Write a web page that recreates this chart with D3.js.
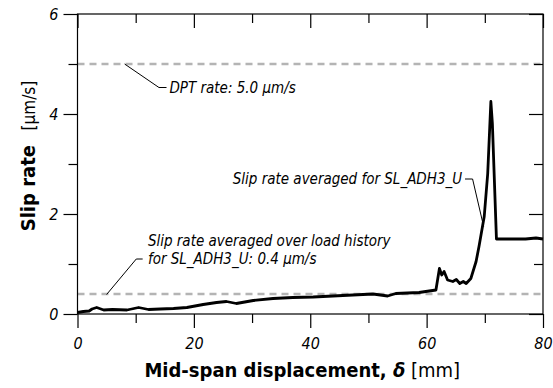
<!DOCTYPE html>
<html>
<head>
<meta charset="utf-8">
<script src="https://cdn.jsdelivr.net/npm/d3@7"></script>
<style>
  body { margin: 0; background: #fff; }
  svg text { font-family: "Liberation Sans Narrow", "Arial Narrow", "DejaVu Sans Condensed", sans-serif; }
</style>
</head>
<body>
<div id="chart"></div>
<script>
// Slip rate vs mid-span displacement
const displacement = [0, 1, 2, 2.5, 3.3, 4.5, 6, 8.5, 10.5, 12.2, 14.2, 16.5, 18.8, 21.6, 23.9, 25.6,
  27.3, 30.2, 33.6, 37, 40.5, 45.6, 50.8, 53.3, 54.7, 58.7, 61.6, 62.2, 62.6, 63.0, 63.6, 64.5,
  65.1, 65.7, 66.3, 66.8, 67.6, 68.5, 69.0, 69.9, 70.5, 70.75, 71.04, 71.3, 72.0, 74.7, 77, 78.8, 80];
const slipRate = [0.03, 0.05, 0.06, 0.1, 0.13, 0.08, 0.09, 0.08, 0.13, 0.09, 0.1, 0.11, 0.13, 0.19, 0.23, 0.25,
  0.21, 0.27, 0.31, 0.33, 0.34, 0.37, 0.40, 0.36, 0.41, 0.43, 0.48, 0.91, 0.78, 0.85, 0.68, 0.65,
  0.69, 0.61, 0.65, 0.61, 0.71, 1.05, 1.35, 1.95, 2.81, 3.48, 4.25, 3.81, 1.5, 1.5, 1.5, 1.52, 1.5];

const refRates = [5.0, 0.4];
const xMajorTicks = [0, 20, 40, 60, 80];
const xMinorTicks = [10, 30, 50, 70];
const yMajorTicks = [0, 2, 4, 6];
const yMinorTicks = [1, 3, 5];

const W = 553, H = 388;
const margin = { top: 14, right: 10, bottom: 74, left: 77.5 };
const width = W - margin.left - margin.right;
const height = H - margin.top - margin.bottom;

const svg = d3.select('#chart').append('svg')
  .attr('width', W)
  .attr('height', H);

const g = svg.append('g')
  .attr('transform', `translate(${margin.left},${margin.top})`);

const x = d3.scaleLinear().domain([0, 80]).range([0, width]);
const y = d3.scaleLinear().domain([0, 6]).range([height, 0]);
const fmt = d3.format('d');

// reference dashed lines
g.selectAll('.ref')
  .data(refRates)
  .enter().append('line')
  .attr('class', 'ref')
  .attr('x1', 0).attr('x2', width)
  .attr('y1', d => y(d)).attr('y2', d => y(d))
  .attr('stroke', '#b4b4b4')
  .attr('stroke-width', 2.5)
  .attr('stroke-dasharray', '7,5');

// axes: bottom / left ticks outward, top / right inward
function styleAxis(sel) {
  sel.select('.domain').remove();
  sel.selectAll('.tick line').attr('stroke', '#000').attr('stroke-width', 1.2);
  sel.selectAll('.tick text')
    .attr('font-size', 16)
    .attr('font-style', 'italic')
    .attr('fill', '#000');
}

g.append('g')
  .attr('transform', `translate(0,${height})`)
  .call(d3.axisBottom(x).tickValues(xMajorTicks).tickSize(14).tickPadding(10).tickFormat(fmt))
  .call(styleAxis);
g.append('g')
  .attr('transform', `translate(0,${height})`)
  .call(d3.axisBottom(x).tickValues(xMinorTicks).tickSize(9).tickFormat(''))
  .call(styleAxis);
g.append('g')
  .call(d3.axisTop(x).tickValues(xMajorTicks).tickSize(-14).tickFormat(''))
  .call(styleAxis);
g.append('g')
  .call(d3.axisTop(x).tickValues(xMinorTicks).tickSize(-9).tickFormat(''))
  .call(styleAxis);

g.append('g')
  .call(d3.axisLeft(y).tickValues(yMajorTicks).tickSize(14).tickPadding(5).tickFormat(fmt))
  .call(styleAxis);
g.append('g')
  .call(d3.axisLeft(y).tickValues(yMinorTicks).tickSize(9).tickFormat(''))
  .call(styleAxis);
g.append('g')
  .attr('transform', `translate(${width},0)`)
  .call(d3.axisRight(y).tickValues(yMajorTicks).tickSize(-14).tickFormat(''))
  .call(styleAxis);
g.append('g')
  .attr('transform', `translate(${width},0)`)
  .call(d3.axisRight(y).tickValues(yMinorTicks).tickSize(-9).tickFormat(''))
  .call(styleAxis);

// frame
g.append('rect')
  .attr('width', width)
  .attr('height', height)
  .attr('fill', 'none')
  .attr('stroke', '#000')
  .attr('stroke-width', 1.2);

// data curve
const pts = displacement.map((d, i) => [d, slipRate[i]]);
g.append('path')
  .datum(pts)
  .attr('fill', 'none')
  .attr('stroke', '#000')
  .attr('stroke-width', 2.8)
  .attr('stroke-linejoin', 'round')
  .attr('d', d3.line().x(d => x(d[0])).y(d => y(d[1])));

// annotations
function leader(points) {
  g.append('path')
    .attr('d', d3.line()(points))
    .attr('fill', 'none')
    .attr('stroke', '#000')
    .attr('stroke-width', 1);
}
function note(px, py, txt) {
  const t = g.append('text')
    .attr('x', px).attr('y', py)
    .attr('font-size', 15)
    .attr('font-style', 'italic')
    .attr('dominant-baseline', 'central');
  txt.forEach(p => t.append('tspan').text(p));
  return t;
}

// DPT rate
leader([[x(8.1), y(5.0)], [x(14.0), y(4.53)], [x(15.3), y(4.53)]]);
note(x(15.8), y(4.53), ['DPT rate: 5.0 ', 'μm/s']);

// averaged for SL_ADH3_U
const t1 = note(0, y(2.7), ['Slip rate averaged for SL_ADH3_U']);
t1.attr('text-anchor', 'end').attr('x', x(66.1));
leader([[x(66.6), y(2.7)], [x(67.9), y(2.7)], [x(69.8), y(1.75)]]);

// averaged over load history
leader([[x(5.0), y(0.39)], [x(10.1), y(1.1)], [x(11.2), y(1.1)]]);
note(x(12.1), y(1.47), ['Slip rate averaged over load history']);
note(x(12.1), y(1.1), ['for SL_ADH3_U: 0.4 ', 'μm/s']);

// axis titles
svg.append('text')
  .attr('x', margin.left + width / 2 - 8)
  .attr('y', 377)
  .attr('text-anchor', 'middle')
  .attr('font-size', 20)
  .call(t => {
    t.append('tspan').attr('font-weight', 'bold').text('Mid-span displacement, ');
    t.append('tspan').attr('font-weight', 'bold').attr('font-style', 'italic').text('δ');
    t.append('tspan').text(' [mm]');
  });

svg.append('text')
  .attr('transform', `translate(35,${margin.top + height / 2 - 8}) rotate(-90)`)
  .attr('text-anchor', 'middle')
  .attr('font-size', 20)
  .call(t => {
    t.append('tspan').attr('font-weight', 'bold').text('Slip rate');
    t.append('tspan').attr('font-size', 17).text('\u00a0\u00a0\u00a0[μm/s]');
  });
</script>
</body>
</html>
